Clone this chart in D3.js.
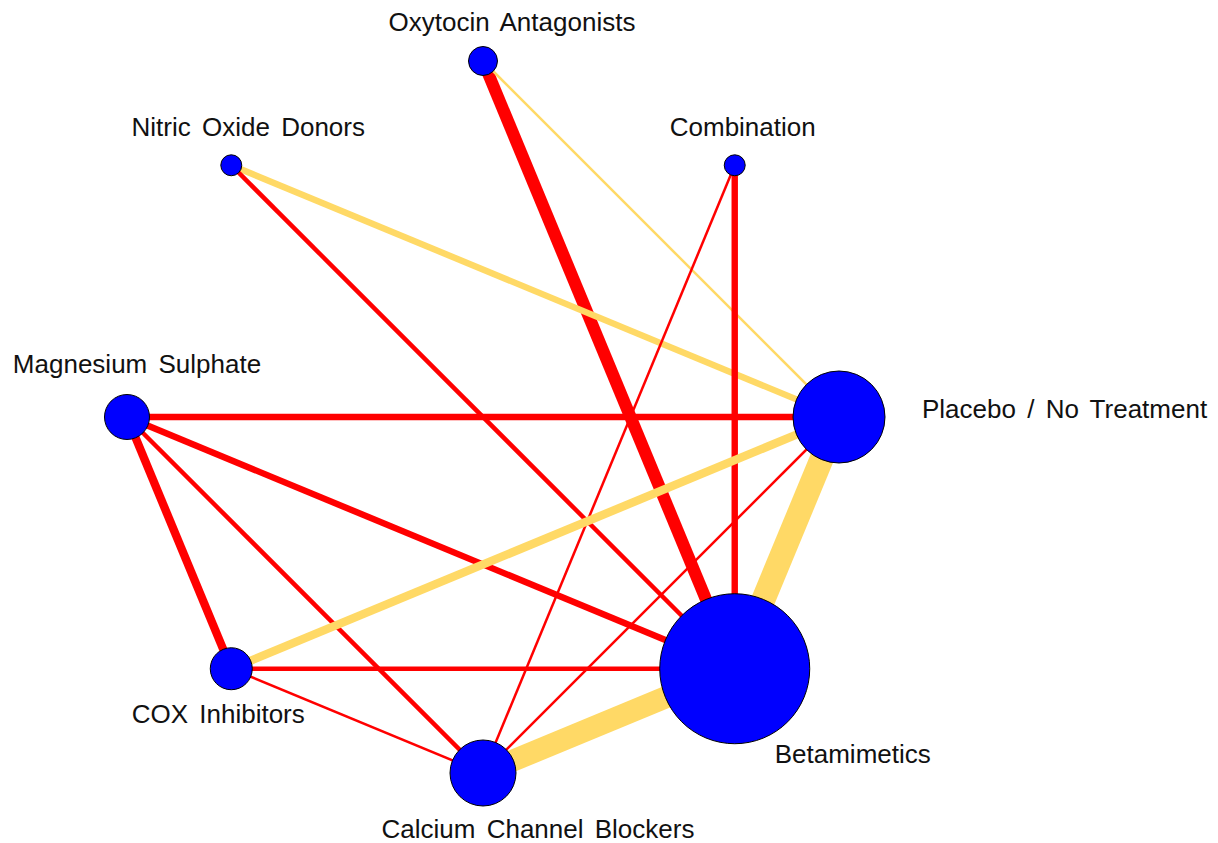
<!DOCTYPE html>
<html>
<head>
<meta charset="utf-8">
<script src="https://cdn.jsdelivr.net/npm/d3@7"></script>
<style>
  body { margin: 0; background: #fff; }
  svg { display: block; }
  .label { font-family: "Liberation Sans", Arial, sans-serif; font-size: 26px; fill: #111; word-spacing: 4px; }
</style>
</head>
<body>
<svg id="net" width="1218" height="843"></svg>
<script>
// treatments, clockwise from the top
var treatments = ["Oxytocin Antagonists", "Combination", "Placebo / No Treatment", "Betamimetics",
                  "Calcium Channel Blockers", "COX Inhibitors", "Magnesium Sulphate", "Nitric Oxide Donors"];
// relative node size (patients, estimated from the circle areas)
var nodeSize = [210, 110, 2116, 5625, 1089, 441, 506, 110];

// comparisons: source, target, number of studies, evidence type (r = red, y = yellow)
var edgeFrom  = ["Oxytocin Antagonists", "Oxytocin Antagonists", "Nitric Oxide Donors", "Nitric Oxide Donors",
                 "Combination", "Combination", "Magnesium Sulphate", "Magnesium Sulphate",
                 "Magnesium Sulphate", "Magnesium Sulphate", "Placebo / No Treatment", "Placebo / No Treatment",
                 "Placebo / No Treatment", "COX Inhibitors", "COX Inhibitors", "Calcium Channel Blockers"];
var edgeTo    = ["Betamimetics", "Placebo / No Treatment", "Placebo / No Treatment", "Betamimetics",
                 "Betamimetics", "Calcium Channel Blockers", "Placebo / No Treatment", "Betamimetics",
                 "COX Inhibitors", "Calcium Channel Blockers", "Betamimetics", "COX Inhibitors",
                 "Calcium Channel Blockers", "Betamimetics", "Calcium Channel Blockers", "Betamimetics"];
var edgeN     = [6, 1, 3, 2, 3, 1, 3, 3, 4, 2, 12, 4, 1, 2, 1, 11];
var edgeType  = ["r", "y", "y", "r", "r", "r", "r", "r", "r", "r", "y", "y", "r", "r", "r", "y"];

// label placement relative to each node
var labelPos = {
  "Oxytocin Antagonists":     { dx: 29,  dy: -30, anchor: "middle" },
  "Combination":              { dx: 8,   dy: -29, anchor: "middle" },
  "Placebo / No Treatment":   { dx: 83,  dy: 1,   anchor: "start" },
  "Betamimetics":             { dx: 40,  dy: 94,  anchor: "start" },
  "Calcium Channel Blockers": { dx: 55,  dy: 65,  anchor: "middle" },
  "COX Inhibitors":           { dx: -13, dy: 54,  anchor: "middle" },
  "Magnesium Sulphate":       { dx: 10,  dy: -44, anchor: "middle" },
  "Nitric Oxide Donors":      { dx: 17,  dy: -29, anchor: "middle" }
};

var colors = { r: "#ff0000", y: "#ffd966" };

var svg = d3.select("#net");
var cx = 483, cy = 417, R = 356;

var angle = d3.scaleLinear().domain([0, treatments.length]).range([-Math.PI / 2, 1.5 * Math.PI]);
var rScale = d3.scaleSqrt().domain([0, d3.max(nodeSize)]).range([0, 75]);
var wScale = d3.scaleLinear().domain([1, 12]).range([2.5, 24]);

var nodes = treatments.map(function (t, i) {
    return {
        name: t,
        x: cx + R * Math.cos(angle(i)),
        y: cy + R * Math.sin(angle(i)),
        r: rScale(nodeSize[i])
    };
});
var byName = {};
nodes.forEach(function (n) { byName[n.name] = n; });

var edges = edgeFrom.map(function (s, i) {
    return { s: byName[s], t: byName[edgeTo[i]], n: edgeN[i], type: edgeType[i] };
});

svg.append("g")
    .selectAll("line")
    .data(edges)
    .enter()
    .append("line")
    .attr("x1", function (d) { return d.s.x; })
    .attr("y1", function (d) { return d.s.y; })
    .attr("x2", function (d) { return d.t.x; })
    .attr("y2", function (d) { return d.t.y; })
    .attr("stroke", function (d) { return colors[d.type]; })
    .attr("stroke-width", function (d) { return wScale(d.n); });

svg.append("g")
    .selectAll("circle")
    .data(nodes)
    .enter()
    .append("circle")
    .attr("cx", function (d) { return d.x; })
    .attr("cy", function (d) { return d.y; })
    .attr("r", function (d) { return d.r; })
    .attr("fill", "#0000ff")
    .attr("stroke", "#000")
    .attr("stroke-width", 1);

svg.append("g")
    .selectAll("text")
    .data(nodes)
    .enter()
    .append("text")
    .attr("class", "label")
    .attr("x", function (d) { return d.x + labelPos[d.name].dx; })
    .attr("y", function (d) { return d.y + labelPos[d.name].dy; })
    .attr("text-anchor", function (d) { return labelPos[d.name].anchor; })
    .text(function (d) { return d.name; });
</script>
</body>
</html>
